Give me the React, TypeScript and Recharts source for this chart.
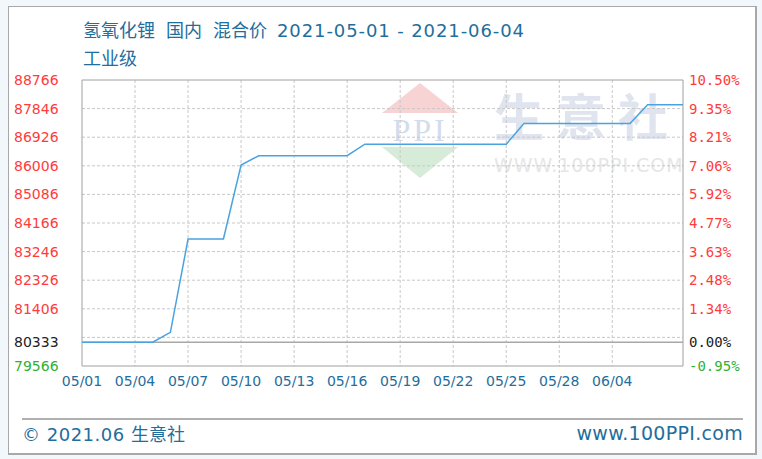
import React from 'react';
import {
  LineChart,
  Line,
  XAxis,
  YAxis,
  CartesianGrid,
  ReferenceLine,
  ReferenceArea,
} from 'recharts';

// daily index 0..34 = 05/01 .. 06/04
const dates = [
  '05/01', '05/02', '05/03', '05/04', '05/05', '05/06', '05/07', '05/08', '05/09', '05/10',
  '05/11', '05/12', '05/13', '05/14', '05/15', '05/16', '05/17', '05/18', '05/19', '05/20',
  '05/21', '05/22', '05/23', '05/24', '05/25', '05/26', '05/27', '05/28', '05/29', '05/30',
  '05/31', '06/01', '06/02', '06/03', '06/04',
];
const prices = [
  80333, 80333, 80333, 80333, 80333, 80650, 83650, 83650, 83650, 86030,
  86330, 86330, 86330, 86330, 86330, 86330, 86700, 86700, 86700, 86700,
  86700, 86700, 86700, 86700, 86700, 87370, 87370, 87370, 87370, 87370,
  87370, 87370, 87970, 87970, 87970,
];

const xTickIdx = [0, 3, 6, 9, 12, 15, 18, 21, 24, 27, 30];
const xTickLabels = ['05/01', '05/04', '05/07', '05/10', '05/13', '05/16', '05/19', '05/22', '05/25', '05/28', '06/04'];

const yTicks = [88766, 87846, 86926, 86006, 85086, 84166, 83246, 82326, 81406, 80333, 79566];
const pctLabels = ['10.50%', '9.35%', '8.21%', '7.06%', '5.92%', '4.77%', '3.63%', '2.48%', '1.34%', '0.00%', '-0.95%'];
const gridValues = [87846, 86926, 86006, 85086, 84166, 83246, 82326, 81406, 80486];
const basePrice = 80333;

const titleParts = ['氢氧化锂', '国内', '混合价'];
const titleDates = '2021-05-01 - 2021-06-04';

const data = dates.map((d, i) => ({ i, date: d, price: prices[i] }));

const blue = '#1f6e9c';
const tickColor = (v: number) => (v === basePrice ? '#222' : v < basePrice ? '#33b033' : '#ff3b3b');

// left price label + right percent label for the same tick
const PriceTick = (props: any) => {
  const v = props.payload.value;
  const k = yTicks.indexOf(v);
  return (
    <g>
      <text x={14} y={props.y} dy={5} fill={tickColor(v)} fontSize={14} fontFamily="DejaVu Sans" textAnchor="start">
        {v}
      </text>
      <text x={689} y={props.y} dy={5} fill={tickColor(v)} fontSize={14} fontFamily="DejaVu Sans Mono" textAnchor="start">
        {pctLabels[k]}
      </text>
    </g>
  );
};

const BottomTick = (props: any) => {
  const k = xTickIdx.indexOf(props.payload.value);
  return (
    <text x={props.x} y={386} fill={blue} fontSize={14} fontFamily="DejaVu Sans" textAnchor="middle">
      {xTickLabels[k]}
    </text>
  );
};

const Watermark = () => (
  <svg width={762} height={459} style={{ position: 'absolute', left: 0, top: 0 }}>
    <polygon points="420,83 458,113 382,113" fill="#f8d3d3" />
    <polygon points="382,147 458,147 420,178" fill="#d6ecd9" />
    <text x={420} y={141} textAnchor="middle" fontSize={32} fontFamily="Liberation Serif" fill="#d3dcec" letterSpacing={3}>
      PPI
    </text>
    <text x={494} y={136} fontSize={50} fontWeight="bold" fontFamily="Noto Sans CJK SC" fill="#dfe4ee" letterSpacing={12}>
      生意社
    </text>
    <text x={494} y={172} fontSize={19} fontFamily="DejaVu Sans" fill="#e6e6e6" letterSpacing={1}>
      WWW.100PPI.COM
    </text>
  </svg>
);

export default function App() {
  return (
    <div style={{ position: 'absolute', left: 0, top: 0, width: 762, height: 459, background: '#f2f7fc' }}>
      <div
        style={{
          position: 'absolute', left: 8, top: 6, width: 746, height: 446,
          background: '#fff', border: '1px solid #a8a8a8', borderRightWidth: 2, borderBottomWidth: 2,
        }}
      />
      <Watermark />
      <div
        style={{
          position: 'absolute', left: 83, top: 16, color: blue, fontSize: 18,
          fontFamily: '"Noto Sans CJK SC"', whiteSpace: 'nowrap', lineHeight: '26px',
        }}
      >
        <div>
          {titleParts.map((t, i) => (
            <span key={t} style={{ marginLeft: i === 0 ? 0 : 11 }}>{t}</span>
          ))}
          <span style={{ marginLeft: 10, fontFamily: '"DejaVu Sans"', fontSize: 18, letterSpacing: 0.9 }}>{titleDates}</span>
        </div>
        <div>工业级</div>
      </div>
      <div style={{ position: 'absolute', left: 0, top: 0 }}>
        <LineChart width={762} height={459} data={data} margin={{ top: 80, right: 79, bottom: 0, left: 0 }}>
          <CartesianGrid
            stroke="#c8c8c8"
            strokeDasharray="3 2"
            horizontalValues={gridValues}
            verticalValues={xTickIdx.slice(1)}
          />
          <XAxis
            dataKey="i"
            type="number"
            domain={[0, 34]}
            ticks={xTickIdx}
            height={93}
            axisLine={false}
            tickLine={false}
            tick={<BottomTick />}
            interval={0}
          />
          <YAxis
            domain={[79566, 88766]}
            ticks={yTicks}
            width={82}
            axisLine={false}
            tickLine={false}
            tick={<PriceTick />}
            interval={0}
          />
          <ReferenceLine y={basePrice} stroke="#a8a8a8" strokeWidth={1.5} />
          <ReferenceArea x1={0} x2={34} y1={79566} y2={88766} fill="none" stroke="#a0a0a0" />
          <Line
            type="linear"
            dataKey="price"
            stroke="#4aa3df"
            strokeWidth={1.5}
            dot={false}
            isAnimationActive={false}
          />
        </LineChart>
      </div>
      <div style={{ position: 'absolute', left: 22, top: 418, width: 721, borderTop: '2px solid #b0b0b0' }} />
      <div
        style={{
          position: 'absolute', left: 22, top: 421, color: blue, fontSize: 18,
          fontFamily: '"Noto Sans CJK SC"', whiteSpace: 'nowrap', lineHeight: '24px',
        }}
      >
        <span style={{ fontFamily: '"DejaVu Sans"', fontSize: 18, letterSpacing: 0.5 }}>© 2021.06 </span>生意社
      </div>
      <div
        style={{
          position: 'absolute', right: 19, top: 421, color: blue, fontSize: 19,
          fontFamily: '"DejaVu Sans"', whiteSpace: 'nowrap', lineHeight: '24px', letterSpacing: 0.3,
        }}
      >
        www.100PPI.com
      </div>
    </div>
  );
}
